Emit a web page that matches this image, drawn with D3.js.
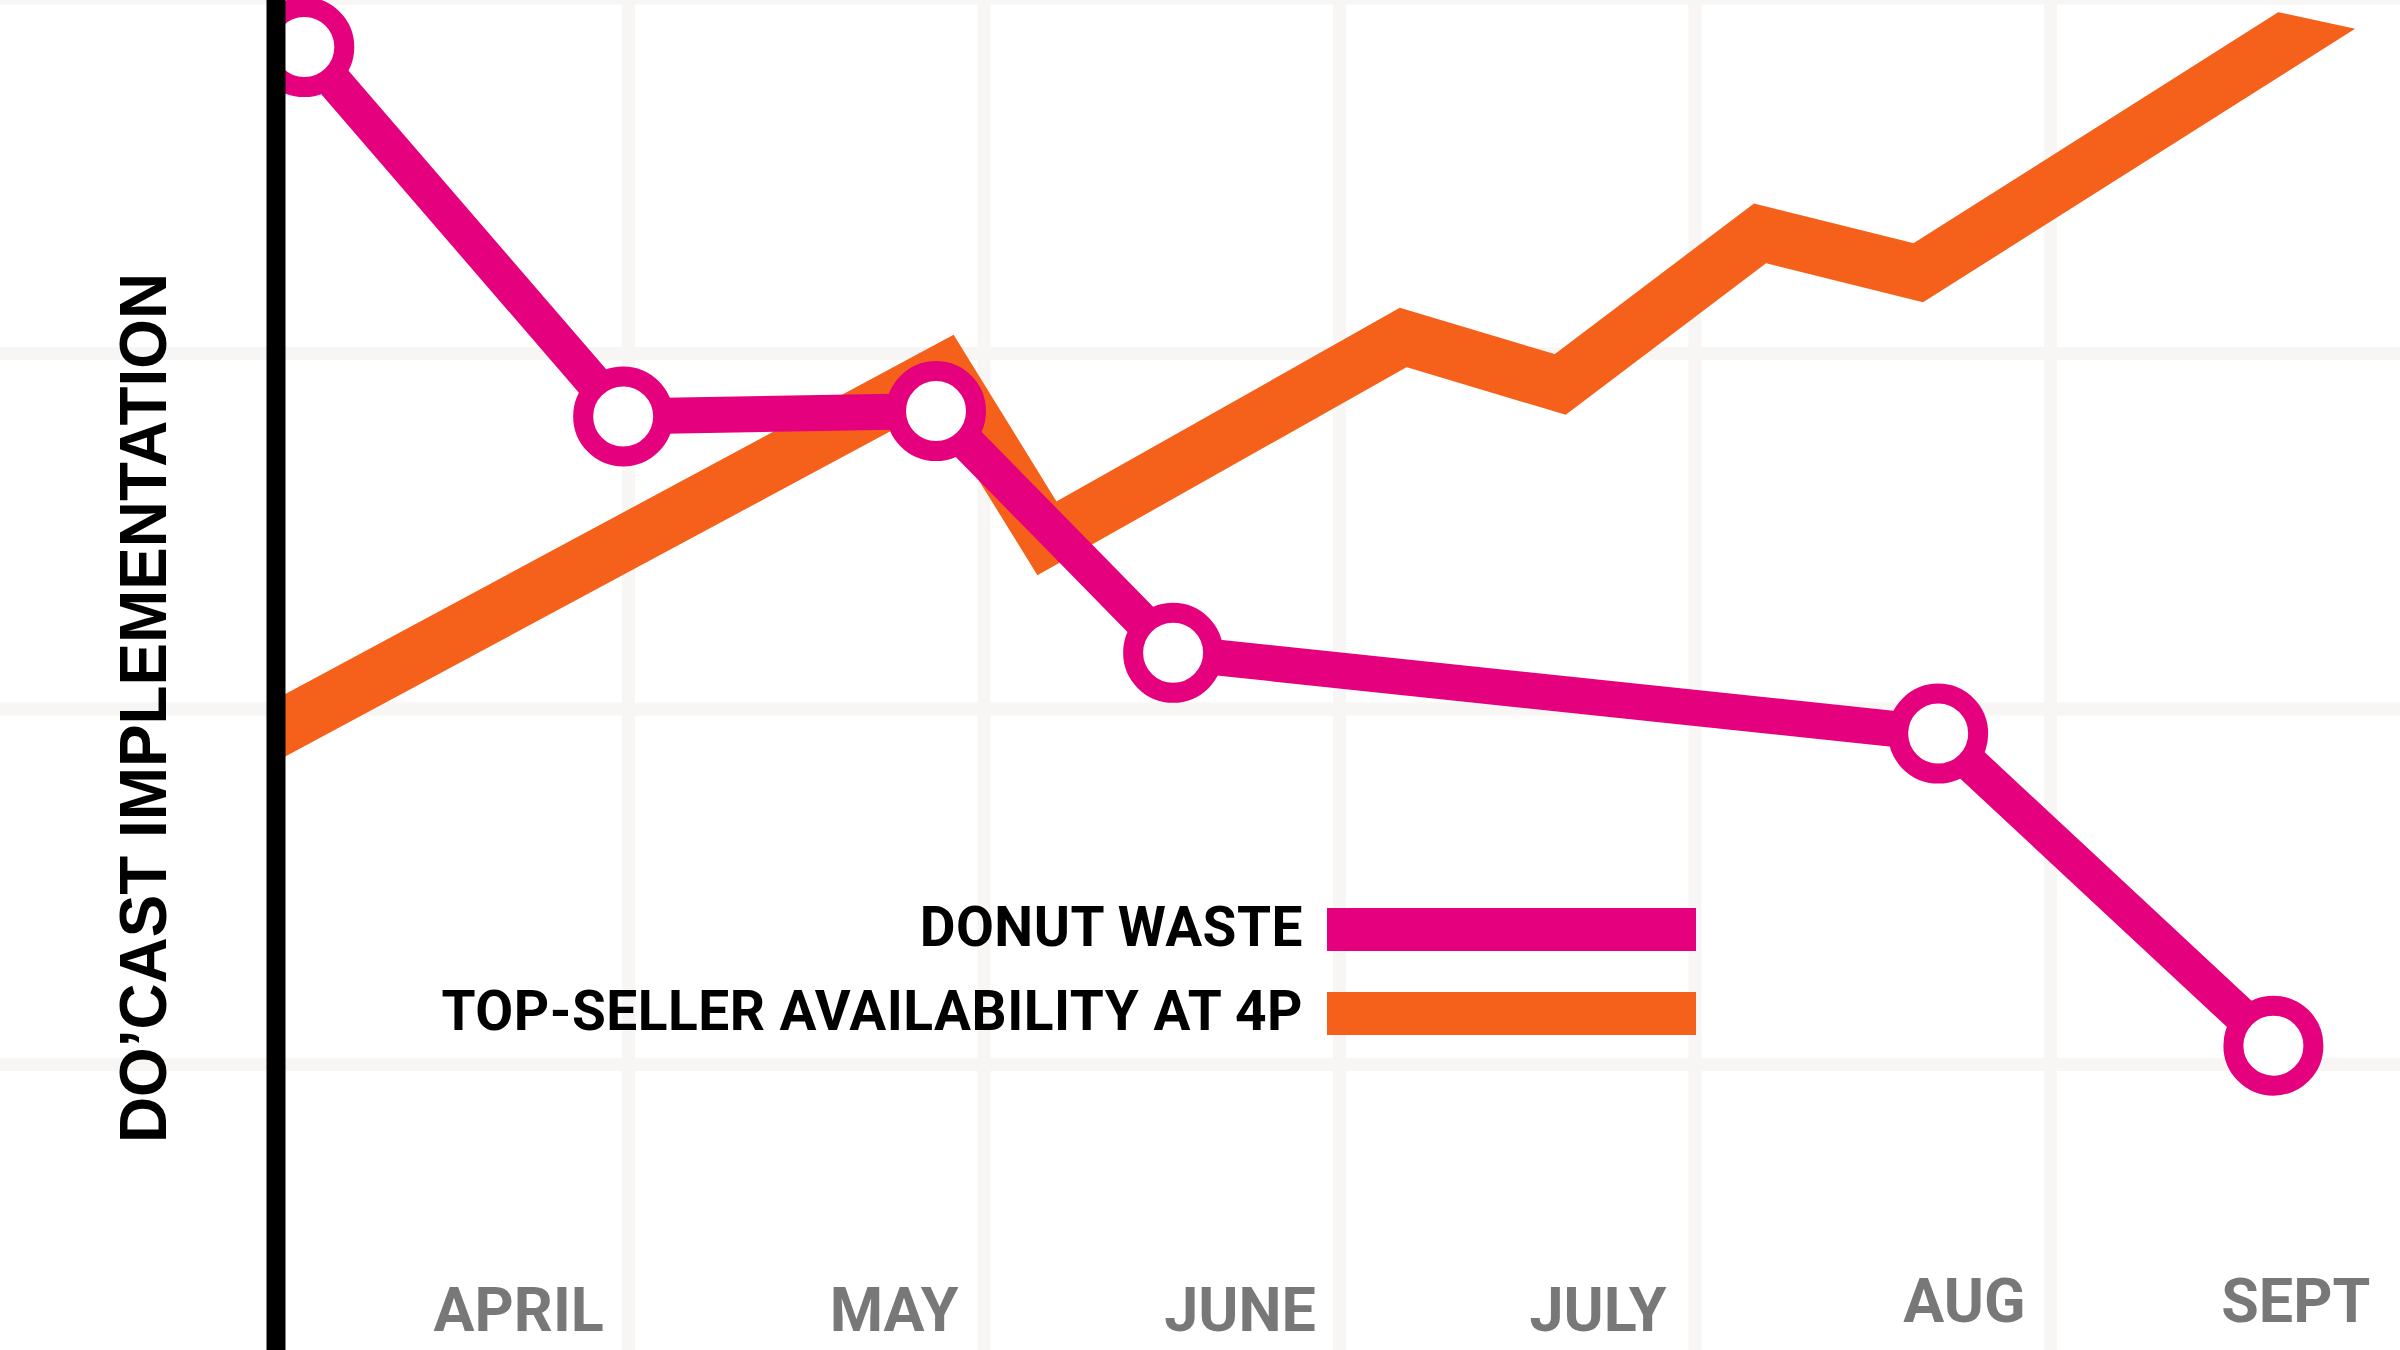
<!DOCTYPE html>
<html>
<head>
<meta charset="utf-8">
<script src="https://cdn.jsdelivr.net/npm/d3@7"></script>
<style>
  html, body { margin: 0; padding: 0; background: #fff; }
  svg { display: block; }
</style>
</head>
<body>
<div id="chart"></div>
<script>
// Months along the bottom and where their labels sit (in month units)
const months = ['APRIL', 'MAY', 'JUNE', 'JULY', 'AUG', 'SEPT'];
const monthPos = [0.691, 1.747, 2.720, 3.727, 4.758, 5.690];

// Donut waste (pink, with ring markers)
const wasteX = [0.088, 0.985, 1.865, 2.532, 4.684, 5.627];
const wasteY = [3.862, 2.823, 2.838, 2.158, 1.931, 1.053];

// Top-seller availability at 4P (orange band)
const availX = [-0.1, 1.887, 2.177, 3.179, 3.621, 4.183, 4.628, 5.85];
const availY = [1.882, 2.950, 2.480, 3.045, 2.913, 3.338, 3.227, 4.001];

const legendLabels = ['DONUT WASTE', 'TOP-SELLER AVAILABILITY AT 4P'];
const yTitle = 'DO\u2019CAST IMPLEMENTATION';

const W = 2400, H = 1350;
const PINK = '#e5007d', ORANGE = '#f5611a';

const svg = d3.select('#chart').append('svg')
    .attr('width', W)
    .attr('height', H);

const x = d3.scaleLinear().domain([0, 6]).range([273, 2406]);
const y = d3.scaleLinear().domain([0, 4]).range([1420, -2]);

// grid
const grid = svg.append('g').attr('stroke', '#f7f6f4').attr('stroke-width', 13);
grid.selectAll('.hg')
    .data(d3.range(1, 5))
    .enter().append('line')
    .attr('x1', 0).attr('x2', W)
    .attr('y1', d => y(d)).attr('y2', d => y(d));
grid.selectAll('.vg')
    .data(d3.range(1, 6))
    .enter().append('line')
    .attr('x1', d => x(d)).attr('x2', d => x(d))
    .attr('y1', 0).attr('y2', H);

// clip everything right of the axis
const defs = svg.append('defs');
defs.append('clipPath').attr('id', 'plot')
    .append('rect').attr('x', 270).attr('y', -50).attr('width', W).attr('height', H + 100);
// the orange band's far end is sliced off on a shallow slant
defs.append('clipPath').attr('id', 'bandcut')
    .append('polygon')
    .attr('points', [[270, -424], [W, 38.6], [W, H + 50], [270, H + 50]].join(' '));

const plot = svg.append('g').attr('clip-path', 'url(#plot)');

const line = d3.line().x(d => x(d[0])).y(d => y(d[1]));

// orange band
plot.append('g').attr('clip-path', 'url(#bandcut)')
    .append('path')
    .datum(d3.zip(availX, availY))
    .attr('d', line)
    .attr('fill', 'none')
    .attr('stroke', ORANGE)
    .attr('stroke-width', 55)
    .attr('stroke-linejoin', 'miter')
    .attr('stroke-linecap', 'butt');

// pink line + markers
const wastePts = d3.zip(wasteX, wasteY);
plot.append('path')
    .datum(wastePts)
    .attr('d', line)
    .attr('fill', 'none')
    .attr('stroke', PINK)
    .attr('stroke-width', 36)
    .attr('stroke-linejoin', 'round');

plot.selectAll('.dot')
    .data(wastePts)
    .enter().append('circle')
    .attr('cx', d => x(d[0]))
    .attr('cy', d => y(d[1]))
    .attr('r', 40)
    .attr('fill', '#fff')
    .attr('stroke', PINK)
    .attr('stroke-width', 20);

// vertical black axis
svg.append('line')
    .attr('x1', 276).attr('x2', 276)
    .attr('y1', 0).attr('y2', H)
    .attr('stroke', '#000')
    .attr('stroke-width', 19);

// month labels
svg.append('g')
    .selectAll('text')
    .data(months)
    .enter().append('text')
    .attr('x', (d, i) => x(monthPos[i]))
    .attr('y', (d, i) => i >= 4 ? 1322 : 1331)
    .attr('text-anchor', 'middle')
    .style('font-family', 'Roboto, sans-serif')
    .style('font-weight', 700)
    .style('font-size', '61px')
    .style('fill', '#787878')
    .text(d => d);

// legend
const legend = svg.append('g');
const swatchColors = [PINK, ORANGE];
legendLabels.forEach((label, i) => {
    const cy = 930 + i * 84;
    legend.append('text')
        .attr('x', 1303)
        .attr('y', cy + 16)
        .attr('text-anchor', 'end')
        .style('font-family', 'Roboto, sans-serif')
        .style('font-weight', 700)
        .style('font-size', '55px')
        .style('letter-spacing', '0.5px')
        .style('fill', '#000')
        .text(label);
    legend.append('rect')
        .attr('x', 1327)
        .attr('y', cy - 22)
        .attr('width', 369)
        .attr('height', 43)
        .attr('fill', swatchColors[i]);
});

// y title
svg.append('text')
    .attr('transform', 'translate(166, 708) rotate(-90)')
    .attr('text-anchor', 'middle')
    .attr('textLength', 870)
    .attr('lengthAdjust', 'spacingAndGlyphs')
    .style('font-family', '"Liberation Sans", Arial, sans-serif')
    .style('font-weight', 700)
    .style('font-size', '66px')
    .style('fill', '#000')
    .text(yTitle);
</script>
</body>
</html>
